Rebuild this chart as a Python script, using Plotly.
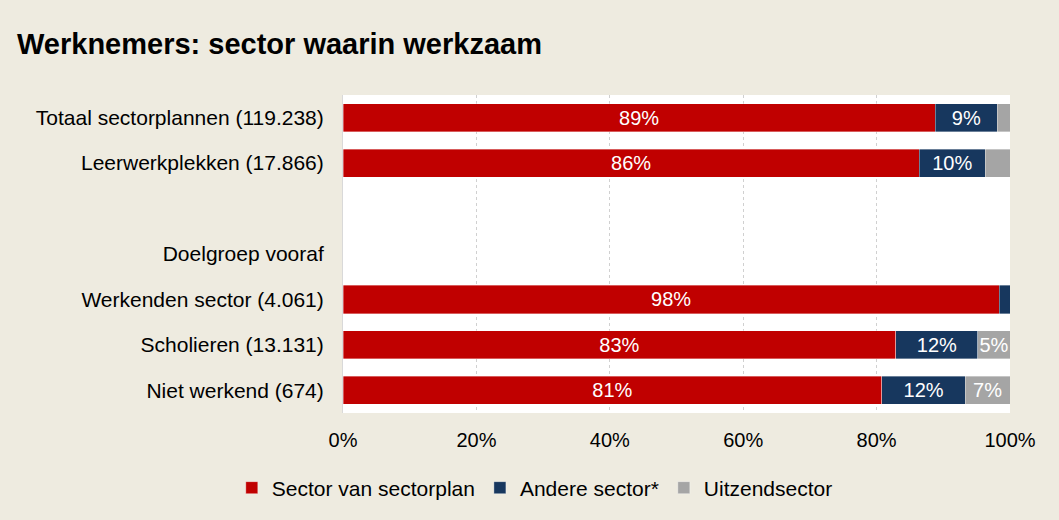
import plotly.graph_objects as go

categories = ["Totaal sectorplannen (119.238)", "Leerwerkplekken (17.866)", " ",
              "Doelgroep vooraf", "Werkenden sector (4.061)", "Scholieren (13.131)",
              "Niet werkend (674)"]
sector_plan = [88.8, 86.4, None, None, 98.4, 82.9, 80.8]
andere = [9.3, 9.9, None, None, 1.6, 12.3, 12.5]
uitzend = [1.9, 3.7, None, None, 0.0, 4.8, 6.7]
series_names = ["Sector van sectorplan", "Andere sector*", "Uitzendsector"]
colors = ["#C00000", "#17375E", "#A5A5A5"]
tick_vals = [0, 20, 40, 60, 80, 100]
tick_text = ["0%", "20%", "40%", "60%", "80%", "100%"]

FONT = "Liberation Sans, Arial, sans-serif"


def labels(vals):
    return ["" if (v is None or v < 4.5) else f"{round(v):.0f}%" for v in vals]


fig = go.Figure()
for name, vals, col in zip(series_names, [sector_plan, andere, uitzend], colors):
    fig.add_trace(go.Bar(
        y=categories, x=vals, name=name, orientation="h",
        marker=dict(color=col, line=dict(color="rgba(255,255,255,0.6)", width=0.6)),
        text=labels(vals), textposition="inside", insidetextanchor="middle",
        textangle=0, constraintext="none",
        textfont=dict(color="white", size=20, family=FONT),
        hoverinfo="skip",
    ))

fig.update_layout(
    width=1059, height=520,
    barmode="stack", bargap=0.38,
    paper_bgcolor="#EEEBE0", plot_bgcolor="white",
    margin=dict(l=343, r=49, t=95, b=107),
    font=dict(family=FONT, size=21, color="black"),
    title=dict(text="<b>Werknemers: sector waarin werkzaam</b>",
               x=17 / 1059, xref="container", xanchor="left",
               y=1 - 44 / 520, yref="container", yanchor="middle",
               pad=dict(l=0, r=0, t=0, b=0),
               font=dict(size=29, family=FONT, color="black")),
    showlegend=True,
    legend=dict(orientation="h", x=0.505, xref="container", xanchor="center",
                y=1 - 488 / 520, yref="container", yanchor="middle",
                font=dict(size=21, family=FONT), itemwidth=30, traceorder="normal",
                bgcolor="rgba(0,0,0,0)"),
    xaxis=dict(range=[0, 100], tickvals=tick_vals, ticktext=tick_text,
               showgrid=True, gridcolor="#D0D0D0", griddash="dot", gridwidth=1,
               zeroline=False, showline=False, ticks="", tickfont=dict(size=20),
               ticklabelstandoff=13, fixedrange=True),
    yaxis=dict(categoryorder="array", categoryarray=categories, autorange="reversed",
               showgrid=False, zeroline=False, showline=True, linecolor="#D9D9D9",
               ticks="", ticklabelstandoff=14, tickfont=dict(size=21), fixedrange=True),
)

fig.write_html("out.html", config={"displayModeBar": False},
               post_script="document.body.style.margin='0';")
